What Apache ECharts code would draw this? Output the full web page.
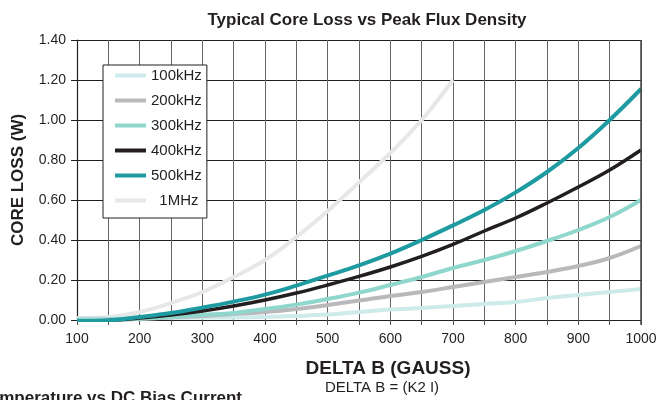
<!DOCTYPE html>
<html>
<head>
<meta charset="utf-8">
<script src="https://cdn.jsdelivr.net/npm/echarts@6/dist/echarts.min.js"></script>
<style>
  html, body { margin: 0; padding: 0; background: #fff; }
  #chart { width: 662px; height: 400px; }
</style>
</head>
<body>
<div id="chart"></div>
<script>
// delta B (gauss)
var deltaB = [100, 150, 200, 250, 300, 350, 400, 450, 500, 550, 600, 650, 700, 750, 800, 850, 900, 950, 1000];

// core loss (W) per frequency
var loss100k = [0.010, 0.010, 0.010, 0.011, 0.012, 0.013, 0.015, 0.020, 0.027, 0.040, 0.052, 0.060, 0.070, 0.080, 0.090, 0.110, 0.125, 0.140, 0.155];
var loss200k = [0.002, 0.003, 0.005, 0.012, 0.020, 0.030, 0.040, 0.055, 0.075, 0.097, 0.120, 0.140, 0.165, 0.190, 0.215, 0.240, 0.270, 0.310, 0.370];
var loss300k = [0.000, 0.002, 0.006, 0.015, 0.025, 0.035, 0.055, 0.077, 0.105, 0.137, 0.175, 0.215, 0.260, 0.300, 0.345, 0.395, 0.450, 0.515, 0.600];
var loss400k = [-0.005, -0.003, 0.010, 0.025, 0.045, 0.070, 0.100, 0.135, 0.175, 0.218, 0.265, 0.318, 0.378, 0.445, 0.510, 0.585, 0.665, 0.750, 0.850];
var loss500k = [-0.005, -0.002, 0.015, 0.035, 0.062, 0.092, 0.127, 0.172, 0.222, 0.273, 0.332, 0.400, 0.473, 0.550, 0.638, 0.740, 0.860, 1.000, 1.155];
var loss1M   = [0.010, 0.015, 0.040, 0.085, 0.140, 0.215, 0.300, 0.415, 0.545, 0.688, 0.835, 1.000, 1.200];

var names = ['100kHz', '200kHz', '300kHz', '400kHz', '500kHz', '1MHz'];
var colors = ['#cdebea', '#b9b9bb', '#8fd6cc', '#231f20', '#1e9aa1', '#e7e7e8'];
var yTicks = ['0.00', '0.20', '0.40', '0.60', '0.80', '1.00', '1.20', '1.40'];

function pairs(vals) {
    var out = [];
    for (var i = 0; i < vals.length; i++) {
        out.push([deltaB[i], vals[i]]);
    }
    return out;
}

var allLoss = [loss100k, loss200k, loss300k, loss400k, loss500k, loss1M];
var seriesList = [];
for (var k = 0; k < names.length; k++) {
    seriesList.push({
        name: names[k],
        type: 'line',
        smooth: 0.4,
        symbol: 'none',
        data: pairs(allLoss[k]),
        lineStyle: { color: colors[k], width: k == 3 ? 3.5 : 4 },
        itemStyle: { color: colors[k] },
        z: k == 5 ? 1 : 2 + k
    });
}

var font = 'Liberation Sans, Arial, Helvetica, sans-serif';

var myChart = echarts.init(document.getElementById('chart'));
var option = {
    animation: false,
    title: {
        text: 'Typical Core Loss vs Peak Flux Density',
        left: 362, top: 7, textAlign: 'center',
        textStyle: { fontFamily: font, fontSize: 17, fontWeight: 'bold', color: '#231f20' }
    },
    legend: {
        orient: 'vertical',
        left: 103, top: 65,
        data: names,
        icon: 'rect',
        backgroundColor: '#fff',
        borderColor: '#231f20', borderWidth: 1,
        padding: [3, 5, 10, 12],
        itemGap: 10,
        itemWidth: 31, itemHeight: 4,
        formatter: function (name) { return name == '1MHz' ? '  1MHz' : name; },
        textStyle: { fontFamily: font, fontSize: 15, lineHeight: 15, color: '#231f20' }
    },
    grid: { left: 77, right: 21, top: 40, bottom: 80 },
    xAxis: {
        type: 'value',
        min: 100, max: 1000, interval: 50,
        name: 'DELTA B (GAUSS)',
        nameLocation: 'middle', nameGap: 39,
        nameTextStyle: { fontFamily: font, fontSize: 19, fontWeight: 'bold', color: '#231f20', padding: [0, 0, 0, 58] },
        axisLine: { lineStyle: { color: '#231f20', width: 1.2 } },
        axisTick: { show: true, length: 5, lineStyle: { color: '#555' } },
        axisLabel: {
            margin: 12,
            fontFamily: font, fontSize: 14, color: '#231f20',
            formatter: function (v) { return v % 100 == 0 ? v : ''; }
        },
        splitLine: { show: true, lineStyle: { color: '#666', width: 1 } }
    },
    yAxis: {
        type: 'value',
        min: 0, max: 1.4, interval: 0.2,
        name: 'CORE LOSS (W)',
        nameLocation: 'middle', nameGap: 50,
        nameTextStyle: { fontFamily: font, fontSize: 17, fontWeight: 'bold', color: '#231f20' },
        axisLine: { show: true, lineStyle: { color: '#231f20', width: 1.2 } },
        axisTick: { show: true, length: 6, lineStyle: { color: '#231f20' } },
        axisLabel: {
            margin: 11,
            fontFamily: font, fontSize: 14, color: '#231f20',
            formatter: function (v) { return yTicks[Math.round(v / 0.2)]; }
        },
        splitLine: { show: true, lineStyle: { color: '#231f20', width: 1 } }
    },
    graphic: [
        {
            type: 'line', z: 10,
            shape: { x1: 641, y1: 40, x2: 641, y2: 325 },
            style: { stroke: '#444', lineWidth: 1.5 }
        },
        {
            type: 'text', left: 325, top: 380,
            style: { text: 'DELTA B = (K2 I)', font: '15px ' + font, fill: '#231f20' }
        },
        {
            type: 'text', x: 242, y: 390,
            style: { text: 'Temperature vs DC Bias Current', textAlign: 'right', textVerticalAlign: 'top', font: 'bold 17px ' + font, fill: '#231f20' }
        }
    ],
    series: seriesList
};

myChart.setOption(option);
</script>
</body>
</html>
